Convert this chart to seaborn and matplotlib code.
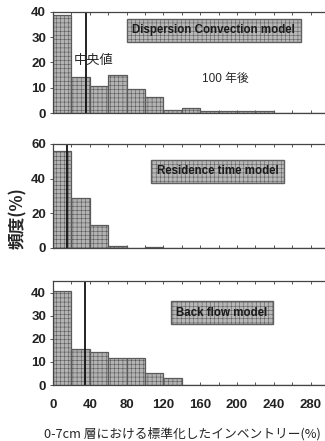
import numpy as np
import pandas as pd
import matplotlib
matplotlib.use("Agg")
import matplotlib.pyplot as plt
import seaborn as sns

# ------------------ データ ------------------
bin_edges = np.arange(0, 320, 20)          # 0-300, 幅20
bin_centers = bin_edges[:-1] + 10

disp_conv = [39, 14.2, 10.8, 15.1, 9.7, 6.4, 1.2, 2.1, 0.9, 0.9, 0.8, 0.8, 0, 0, 0]
residence = [56, 28.7, 13, 1, 0, 0.6, 0, 0, 0, 0, 0, 0, 0, 0, 0]
back_flow = [40.6, 15.7, 14.2, 11.5, 11.5, 5, 2.9, 0, 0, 0, 0, 0, 0, 0, 0]

medians = [36, 15, 35]
model_names = ["Dispersion Convection model", "Residence time model", "Back flow model"]
y_limits = [40, 60, 45]
y_ticks = [[0, 10, 20, 30, 40], [0, 20, 40, 60], [0, 10, 20, 30, 40]]
x_ticks = list(range(0, 300, 40))

x_label = "0-7cm 層における標準化したインベントリー(%)"
y_label = "頻度(%)"

# ------------------ 描画 ------------------
sns.set_style("ticks")
plt.rcParams['font.family'] = ['Liberation Sans', 'Noto Sans CJK JP', 'DejaVu Sans']
plt.rcParams['hatch.linewidth'] = 0.4

fig = plt.figure(figsize=(3.25, 4.41), dpi=100)

# 各パネルの位置 (left, bottom, width, height)
left = 53 / 325
width = (329 - 53) / 325
rects = [
    (left, 1 - 113 / 441, width, 101 / 441),
    (left, 1 - 248 / 441, width, 104 / 441),
    (left, 1 - 385 / 441, width, 104 / 441),
]
box_pos = [(0.583, 0.817), (0.596, 0.736), (0.612, 0.697)]

for i, heights in enumerate([disp_conv, residence, back_flow]):
    ax = fig.add_axes(rects[i])
    df = pd.DataFrame({'x': bin_centers, 'h': heights})
    sns.barplot(data=df, x='x', y='h', native_scale=True, width=1, ax=ax,
                color='#b3b3b3', edgecolor='#5a5a5a', linewidth=0.9,
                saturation=1, errorbar=None, hatch='++++')
    ax.axvline(medians[i], ymin=0, ymax=1, color='#111111', lw=1.3)

    ax.set_xlim(0, 300)
    ax.set_ylim(0, y_limits[i])
    ax.set_yticks(y_ticks[i])
    ax.set_xticks(x_ticks)
    ax.set_xticks(np.arange(0, 301, 20), minor=True)
    ax.tick_params(axis='x', which='both', direction='in', top=True, bottom=True,
                   length=2.5, width=0.7, color='#555555', pad=10)
    ax.tick_params(axis='y', length=2.5, width=0.7, color='#555555', pad=2.5)
    ax.tick_params(labelsize=9.5)
    for lab in ax.get_xticklabels() + ax.get_yticklabels():
        lab.set_fontweight('bold')
        lab.set_color('#222222')
    if i < 2:
        ax.tick_params(axis='x', labelbottom=False)
    for s in ['left', 'bottom', 'top']:
        ax.spines[s].set_visible(True)
        ax.spines[s].set_color('#444444')
        ax.spines[s].set_linewidth(0.9)
    ax.spines['right'].set_visible(False)
    ax.set_xlabel('')
    ax.set_ylabel('')

    ax.text(box_pos[i][0], box_pos[i][1], model_names[i], transform=ax.transAxes,
            ha='center', va='center', fontsize=8.3, fontweight='bold', color='#1a1a1a',
            bbox=dict(boxstyle='square,pad=0.5', facecolor='#b8b8b8',
                      edgecolor='#606060', hatch='++++', linewidth=1.0))

    if i == 0:
        ax.text(0.076, 0.515, "中央値", transform=ax.transAxes, fontsize=9.5,
                va='center', family=['Noto Sans CJK JP'])
        ax.text(0.54, 0.337, "100 年後", transform=ax.transAxes, fontsize=8.5,
                va='center', family=['Liberation Sans', 'Noto Sans CJK JP'])
    if i == 1:
        ax.set_ylabel(y_label, fontsize=12, fontweight='bold',
                      family=['Noto Sans CJK JP'])
        ax.yaxis.set_label_coords(-0.095, 0.29)
    if i == 2:
        ax.set_xlabel(x_label, fontsize=9.2, family=['Noto Sans CJK JP'])
        ax.xaxis.set_label_coords((182 - 53) / 276, -0.40)

fig.savefig("out.png", dpi=100)
